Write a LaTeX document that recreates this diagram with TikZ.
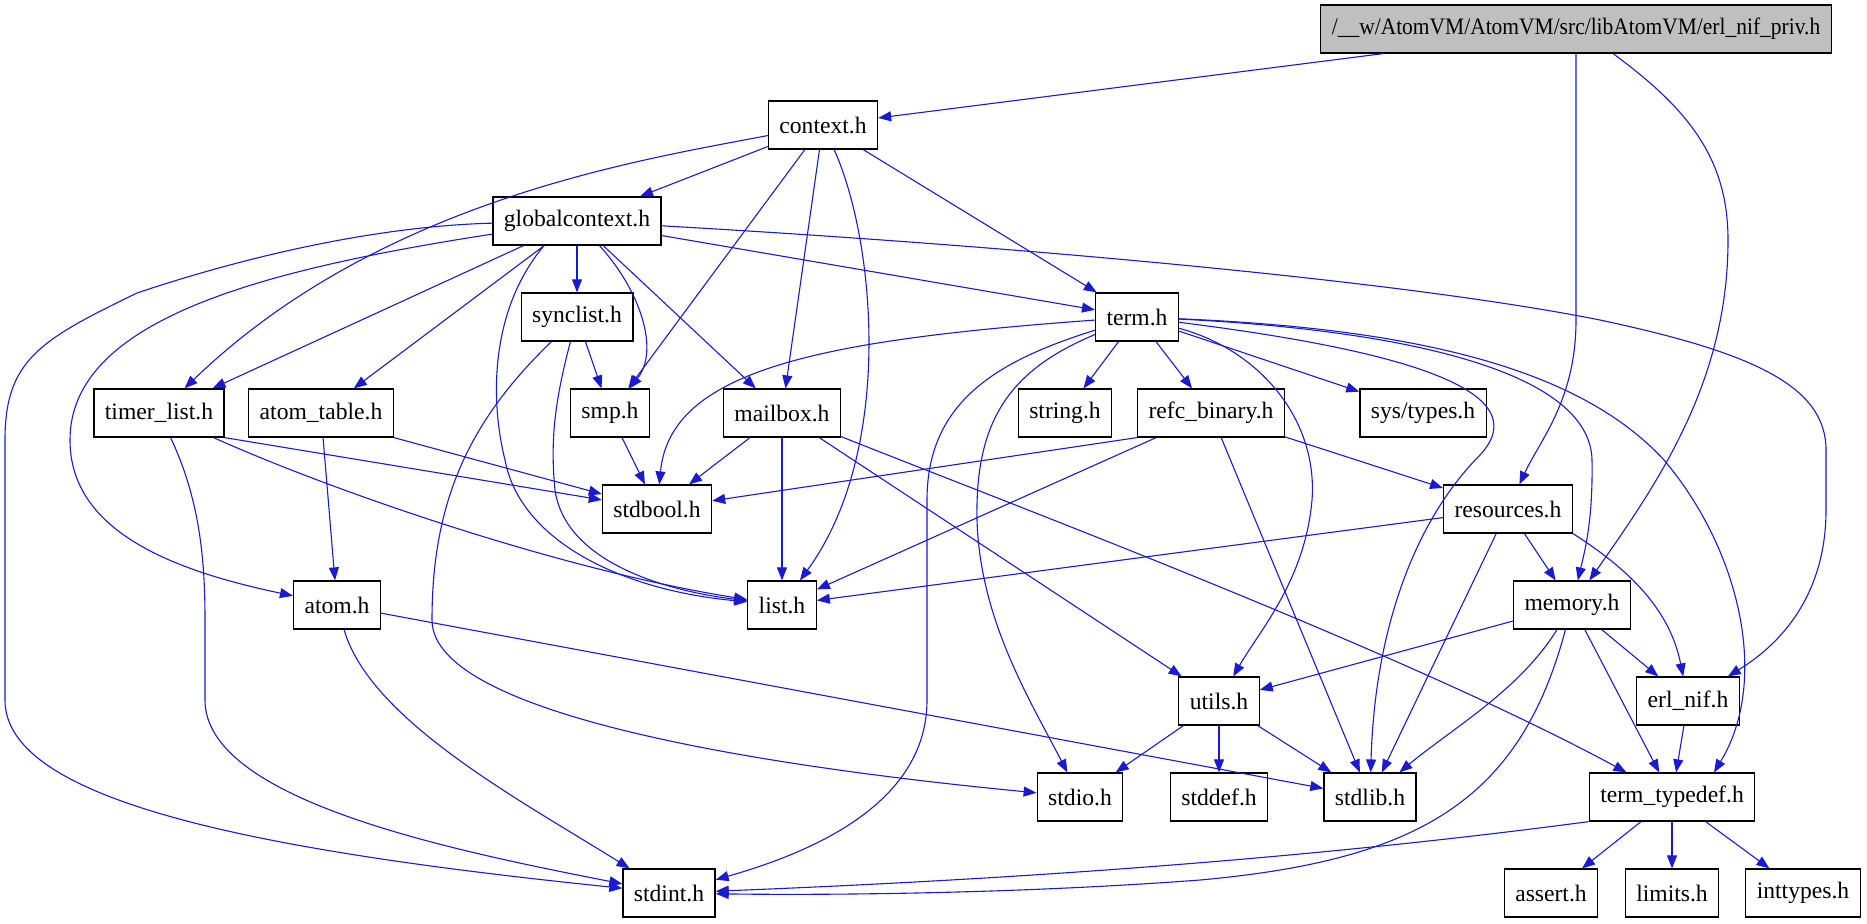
\documentclass[tikz,border=0pt]{standalone}
\usepackage{fontspec}
\setmainfont{Liberation Serif}
\usepackage{graphicx}
\usetikzlibrary{arrows.meta,calc}

\definecolor{incblue}{RGB}{26,26,208}
\definecolor{rootgray}{RGB}{191,191,191}
\tikzset{
  hdr/.style={draw=black, line width=0.6pt, fill=white, minimum height=24pt,
    inner xsep=5.5pt, inner ysep=0pt, font=\fontsize{11.8}{14}\selectfont},
  inc/.style={draw=incblue, line width=0.55pt, -{Triangle[length=6.5pt,width=5pt]}}
}

\begin{document}
\begin{tikzpicture}[x=0.5pt,y=0.5pt,yscale=-1,xscale=1]
\useasboundingbox (0,0) rectangle (1867,923);

%Nodes: headers
\node[hdr, fill=rootgray] (enp) at (1576,29) {\scalebox{0.91}[1]{/\_\_w/AtomVM/AtomVM/src/libAtomVM/erl\_nif\_priv.h}};
\node[hdr] (ctx) at (823,125) {context.h};
\node[hdr] (gc) at (577,221) {globalcontext.h};
\node[hdr] (sl) at (577,317) {synclist.h};
\node[hdr] (term) at (1137,317) {term.h};
\node[hdr] (tl) at (159,413) {timer\_list.h};
\node[hdr] (at) at (321,413) {atom\_table.h};
\node[hdr] (smp) at (610,413) {smp.h};
\node[hdr] (mb) at (782,413) {mailbox.h};
\node[hdr] (str) at (1065,413) {string.h};
\node[hdr] (refc) at (1211,413) {refc\_binary.h};
\node[hdr] (systy) at (1423,413) {sys/types.h};
\node[hdr] (sb) at (657,509) {stdbool.h};
\node[hdr] (res) at (1508,509) {resources.h};
\node[hdr] (atom) at (337,605) {atom.h};
\node[hdr] (list) at (782,605) {list.h};
\node[hdr] (mem) at (1572,605) {memory.h};
\node[hdr] (utils) at (1219,701) {utils.h};
\node[hdr] (enif) at (1688,701) {erl\_nif.h};
\node[hdr] (stdio) at (1080,797) {stdio.h};
\node[hdr] (stddef) at (1219,797) {stddef.h};
\node[hdr] (slib) at (1370,797) {stdlib.h};
\node[hdr] (tt) at (1672,797) {term\_typedef.h};
\node[hdr] (sint) at (669,893) {stdint.h};
\node[hdr] (assrt) at (1551,893) {assert.h};
\node[hdr] (lim) at (1672,893) {limits.h};
\node[hdr] (inttp) at (1803,893) {inttypes.h};

%Edges: erl_nif_priv.h
\draw[inc] (enp) -- (ctx);
\draw[inc] (enp.south) -- (1576,320) .. controls (1576,400) and (1540,440) .. (res);
\draw[inc] ($(enp.south)+(37,0)$) .. controls (1690,110) and (1728,160) .. (1728,240) .. controls (1728,380) and (1660,480) .. (mem);
%Edges: context.h
\draw[inc] (ctx) -- (gc);
\draw[inc] (ctx) .. controls (640,160) and (380,200) .. (tl);
\draw[inc] (ctx) -- (smp);
\draw[inc] (ctx) -- (mb);
\draw[inc] (ctx) .. controls (875,240) and (895,450) .. (list);
\draw[inc] (ctx) -- (term);
%Edges: globalcontext.h
\draw[inc] (gc) .. controls (380,226) and (250,255) .. (137,293) .. controls (40,340) and (5,360) .. (5,440) -- (5,700) .. controls (5,800) and (250,850) .. (sint);
\draw[inc] (gc) -- (tl);
\draw[inc] (gc) .. controls (260,270) and (70,320) .. (70,440) .. controls (70,530) and (170,570) .. (atom);
\draw[inc] (gc) -- (at);
\draw[inc] ($(gc.south)+(-33,0)$) .. controls (490,310) and (490,400) .. (505,460) .. controls (520,540) and (620,590) .. (list);
\draw[inc] (gc) -- (sl);
\draw[inc] (gc) .. controls (640,290) and (660,350) .. (smp);
\draw[inc] (gc) -- (mb);
\draw[inc] (gc) -- (term);
\draw[inc] (gc) .. controls (1000,245) and (1400,280) .. (1600,320) .. controls (1750,352) and (1826,385) .. (1826,450) -- (1826,510) .. controls (1826,580) and (1795,635) .. (enif);
%Edges: synclist.h
\draw[inc] (sl) -- (smp);
\draw[inc] (sl) .. controls (555,400) and (550,440) .. (555,490) .. controls (565,560) and (660,590) .. (list);
\draw[inc] (sl) .. controls (470,420) and (432,500) .. (432,620) .. controls (432,720) and (800,770) .. (stdio);
%Edges: timer_list.h, atom_table.h, smp.h
\draw[inc] (tl.south east) -- (sb);
\draw[inc] (tl) .. controls (330,490) and (560,570) .. (list);
\draw[inc] (tl) .. controls (200,500) and (205,560) .. (205,620) -- (205,700) .. controls (205,800) and (450,850) .. (sint);
\draw[inc] (at.south east) -- (sb);
\draw[inc] (at) -- (atom);
\draw[inc] (smp) -- (sb);
%Edges: mailbox.h
\draw[inc] (mb) -- (sb);
\draw[inc] (mb) -- (list);
\draw[inc] (mb) -- (utils);
\draw[inc] (mb) .. controls (1000,500) and (1400,650) .. (tt);
%Edges: term.h
\draw[inc] (term) .. controls (820,340) and (670,370) .. (sb);
\draw[inc] (term) .. controls (1000,360) and (927,400) .. (927,500) -- (927,700) .. controls (927,800) and (820,850) .. (sint);
\draw[inc] (term) .. controls (1010,370) and (975,420) .. (977,520) .. controls (980,620) and (1030,700) .. (stdio);
\draw[inc] (term) -- (str);
\draw[inc] (term) -- (refc);
\draw[inc] (term) -- (systy);
\draw[inc] (term) .. controls (1260,350) and (1318,420) .. (1312,500) .. controls (1305,580) and (1260,630) .. (utils);
\draw[inc] (term) .. controls (1400,350) and (1540,390) .. (1480,455) .. controls (1420,515) and (1375,620) .. (slib);
\draw[inc] (term) .. controls (1400,330) and (1590,370) .. (1592,460) .. controls (1593,520) and (1585,550) .. (mem);
\draw[inc] (term) .. controls (1450,330) and (1590,380) .. (1664,460) .. controls (1740,550) and (1770,680) .. ($(tt.north)+(42,0)$);
%Edges: refc_binary.h
\draw[inc] (refc.south west) -- (sb);
\draw[inc] (refc) -- (list);
\draw[inc] (refc) -- (slib);
\draw[inc] (refc) -- (res);
%Edges: resources.h
\draw[inc] (res) -- (list);
\draw[inc] (res) -- (mem);
\draw[inc] (res.south east) .. controls (1630,570) and (1670,610) .. (enif);
\draw[inc] (res) -- (slib);
%Edges: atom.h
\draw[inc] (atom) .. controls (370,720) and (520,800) .. (sint);
\draw[inc] (atom) -- (slib);
%Edges: memory.h
\draw[inc] (mem) -- (utils);
\draw[inc] (mem) .. controls (1520,690) and (1450,730) .. (slib);
\draw[inc] (mem) .. controls (1520,800) and (1420,860) .. (1200,880) .. controls (1000,895) and (800,895) .. (sint);
\draw[inc] (mem) -- (enif);
\draw[inc] (mem) -- (tt);
%Edges: utils.h, erl_nif.h
\draw[inc] (utils) -- (stdio);
\draw[inc] (utils) -- (stddef);
\draw[inc] (utils) -- (slib);
\draw[inc] (enif) -- (tt);
%Edges: term_typedef.h
\draw[inc] (tt.south west) .. controls (1300,860) and (1000,880) .. (sint);
\draw[inc] (tt) -- (assrt);
\draw[inc] (tt) -- (lim);
\draw[inc] (tt) -- (inttp);

\end{tikzpicture}
\end{document}
